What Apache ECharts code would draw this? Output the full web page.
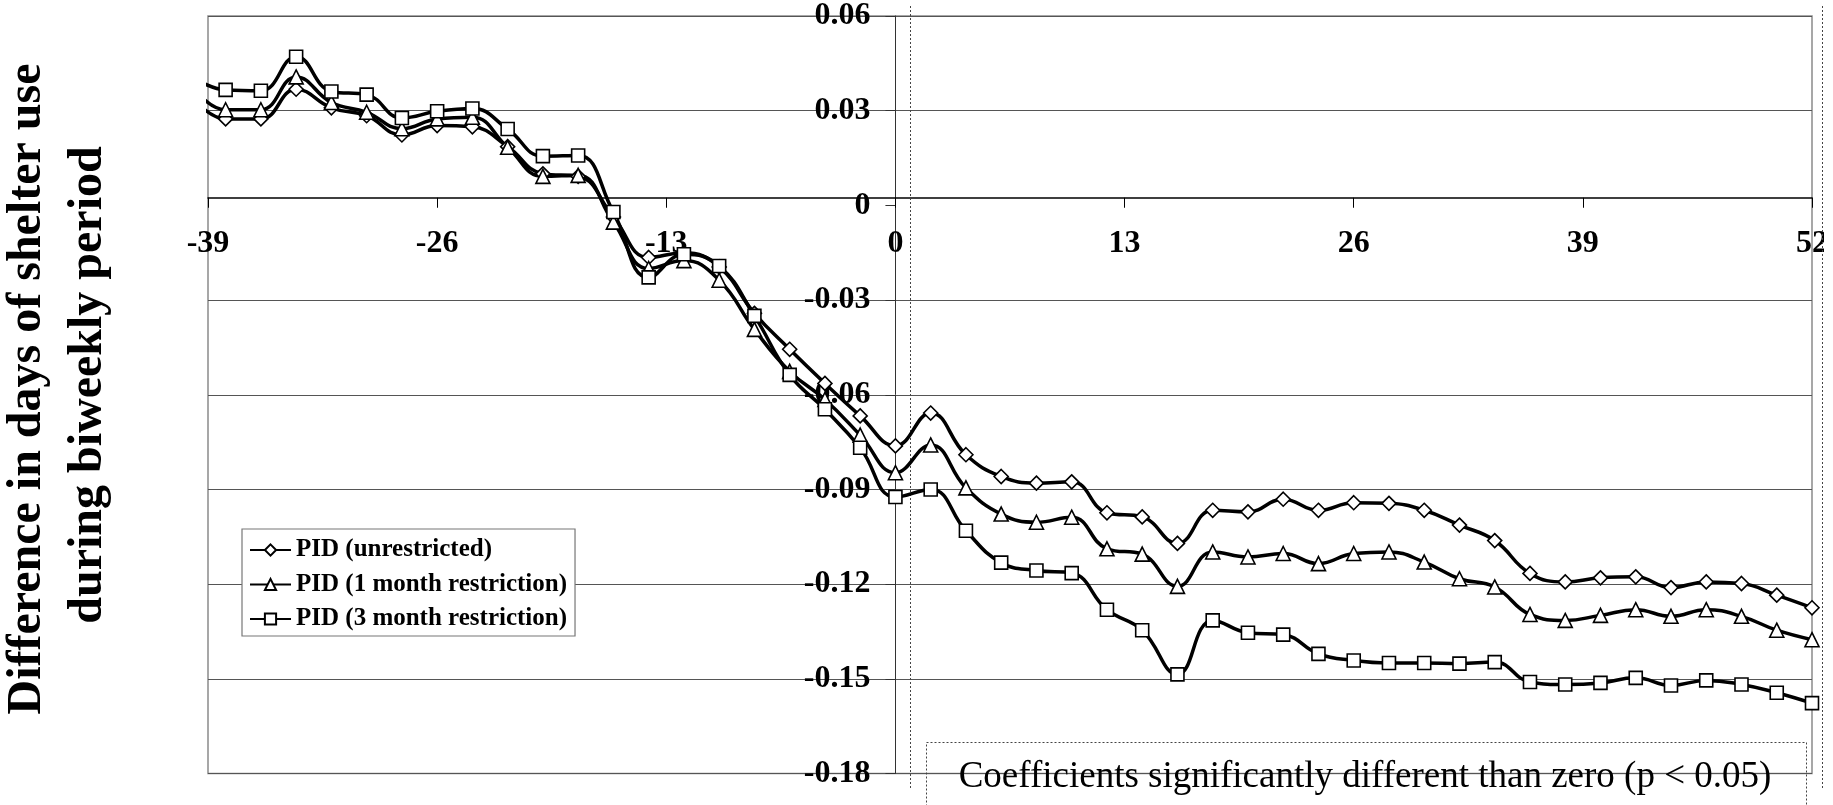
<!DOCTYPE html>
<html>
<head>
<meta charset="utf-8">
<script src="https://cdn.jsdelivr.net/npm/echarts@6/dist/echarts.min.js"></script>
<style>
html,body{margin:0;padding:0;background:#fff;}
#chart{width:1833px;height:805px;}
</style>
</head>
<body>
<div id="chart"></div>
<script>
// Biweekly periods relative to event (x values)
const periods = [-40,-38,-36,-34,-32,-30,-28,-26,-24,-22,-20,-18,-16,-14,-12,-10,-8,-6,-4,-2,0,2,4,6,8,10,12,14,16,18,20,22,24,26,28,30,32,34,36,38,40,42,44,46,48,50,52];

const pidUnrestricted = [0.035,0.0274,0.0274,0.0368,0.0309,0.0284,0.0223,0.0253,0.0249,0.0186,0.0100,0.0092,-0.0037,-0.0165,-0.0150,-0.0195,-0.0342,-0.0456,-0.0564,-0.0667,-0.0762,-0.0658,-0.0790,-0.0859,-0.0880,-0.0876,-0.0974,-0.0987,-0.1071,-0.0966,-0.0971,-0.0931,-0.0966,-0.0942,-0.0944,-0.0966,-0.1013,-0.1062,-0.1166,-0.1193,-0.1180,-0.1177,-0.1211,-0.1193,-0.1198,-0.1235,-0.1275];

const pid1Month = [0.0385,0.0303,0.0303,0.0407,0.0326,0.0295,0.0243,0.0274,0.0279,0.0184,0.0092,0.0095,-0.0053,-0.0200,-0.0175,-0.0237,-0.0393,-0.0526,-0.0615,-0.0728,-0.0847,-0.0759,-0.0895,-0.0978,-0.1004,-0.0988,-0.1088,-0.1105,-0.1207,-0.1098,-0.1114,-0.1103,-0.1135,-0.1103,-0.1098,-0.1130,-0.1183,-0.1209,-0.1296,-0.1315,-0.1299,-0.1281,-0.1302,-0.1281,-0.1302,-0.1346,-0.1376];

const pid3Month = [0.041,0.0366,0.0363,0.0471,0.0361,0.0351,0.0277,0.0298,0.0307,0.0242,0.0156,0.0158,-0.0021,-0.0228,-0.0155,-0.0192,-0.0350,-0.0537,-0.0646,-0.0768,-0.0924,-0.0900,-0.1031,-0.1132,-0.1157,-0.1165,-0.1281,-0.1346,-0.1486,-0.1315,-0.1354,-0.1360,-0.1421,-0.1442,-0.1450,-0.1450,-0.1452,-0.1447,-0.1510,-0.1518,-0.1513,-0.1497,-0.1521,-0.1505,-0.1518,-0.1544,-0.1577];

const seriesNames = ['PID (unrestricted)','PID (1 month restriction)','PID (3 month restriction)'];
const yTitleLines = ['Difference in days of shelter use','during biweekly period'];
const noteText = 'Coefficients significantly different than zero (p < 0.05)';

const X_MIN = -39, X_MAX = 52, X_STEP = 13;
const Y_MIN = -0.18, Y_MAX = 0.06, Y_STEP = 0.03;

const SERIF = "'Liberation Serif','Times New Roman',serif";
const GRID = {left:208, top:15.5, width:1604, height:758};

function pairs(vals){ return periods.map((p,i)=>[p, vals[i]]); }

// split line colours per tick (from min); the one at zero is left to the x axis line
const nTicks = Math.round((Y_MAX - Y_MIN) / Y_STEP) + 1;
const splitColors = [];
for (let i = 0; i < nTicks; i++) {
  const v = Y_MIN + i * Y_STEP;
  splitColors.push(Math.abs(v) < 1e-9 ? 'rgba(0,0,0,0)' : '#555');
}

function mkSeries(name, vals, symbol, size){
  return {
    name: name, type: 'line', data: pairs(vals),
    smooth: 0.45, clip: true,
    symbol: symbol, symbolSize: size, showAllSymbol: true,
    lineStyle: {color:'#000', width:3.5},
    itemStyle: {color:'#fff', borderColor:'#000', borderWidth:1.6},
    emphasis: {disabled:true},
    z: 3
  };
}

const chart = echarts.init(document.getElementById('chart'), null, {renderer:'canvas'});
chart.setOption({
  animation: false,
  backgroundColor: '#fff',
  grid: Object.assign({show:true, borderColor:'#8a8a8a', borderWidth:1.5, backgroundColor:'transparent'}, GRID),
  xAxis: {
    type:'value', min:X_MIN, max:X_MAX, interval:X_STEP, position:'bottom',
    axisLine:{onZero:false, lineStyle:{color:'#000', width:1.5}},
    axisTick:{show:true, inside:false, length:10, lineStyle:{color:'#000', width:1}},
    axisLabel:{color:'#000', fontFamily:SERIF, fontWeight:'bold', fontSize:32, margin:30, showMinLabel:true, showMaxLabel:true, hideOverlap:false},
    splitLine:{show:false}
  },
  yAxis: {
    type:'value', min:Y_MIN, max:Y_MAX, interval:Y_STEP, position:'left',
    axisLine:{show:true, onZero:false, lineStyle:{color:'#333', width:1}},
    axisTick:{show:true, inside:false, length:10, lineStyle:{color:'#333', width:1}},
    axisLabel:{color:'#000', fontFamily:SERIF, fontWeight:'bold', fontSize:32, margin:25, showMinLabel:true, showMaxLabel:true, hideOverlap:false},
    splitLine:{show:true, lineStyle:{color:splitColors, width:1}}
  },
  legend: {
    orient:'vertical', left:242, top:529,
    padding:[8,8,4,7], itemGap:8.5, itemWidth:41, itemHeight:14,
    backgroundColor:'#fff', borderColor:'#777', borderWidth:1.2,
    textStyle:{color:'#000', fontFamily:SERIF, fontWeight:'bold', fontSize:25, lineHeight:26},
    data: seriesNames
  },
  series: [
    mkSeries(seriesNames[0], pidUnrestricted, 'diamond', 14),
    mkSeries(seriesNames[1], pid1Month, 'triangle', 14),
    mkSeries(seriesNames[2], pid3Month, 'rect', 13)
  ],
  graphic: [
    {type:'text', x:28, y:389, rotation:Math.PI/2, style:{text:yTitleLines[0], font:"bold 48px "+SERIF, fill:'#000', textAlign:'center', textVerticalAlign:'middle'}},
    {type:'text', x:89, y:385, rotation:Math.PI/2, style:{text:yTitleLines[1], font:"bold 48px "+SERIF, fill:'#000', textAlign:'center', textVerticalAlign:'middle'}},
    {type:'line', shape:{x1:910.5, y1:6, x2:910.5, y2:790}, style:{stroke:'#444', lineWidth:1, lineDash:[2,2]}, z:1},
    {type:'line', shape:{x1:1822.5, y1:6, x2:1822.5, y2:788}, style:{stroke:'#444', lineWidth:1, lineDash:[2,2]}, z:1},
    {type:'rect', shape:{x:926.5, y:742.5, width:880, height:80}, style:{fill:'none', stroke:'#444', lineWidth:1, lineDash:[2,2]}, z:1},
    {type:'text', x:1365, y:777, style:{text:noteText, font:"37px "+SERIF, fill:'#000', textAlign:'center', textVerticalAlign:'middle'}, z:2},
    {type:'rect', shape:{x:1824, y:0, width:9, height:805}, style:{fill:'#fff'}, z:100}
  ]
});

// Move the axes so they cross at the origin (0, 0), using the library's own scales.
const zeroX = chart.convertToPixel({xAxisIndex:0}, 0);
const zeroY = chart.convertToPixel({yAxisIndex:0}, 0);
chart.setOption({
  yAxis: {offset: -(zeroX - GRID.left)},
  xAxis: {offset: -((GRID.top + GRID.height) - zeroY)}
});
</script>
</body>
</html>
